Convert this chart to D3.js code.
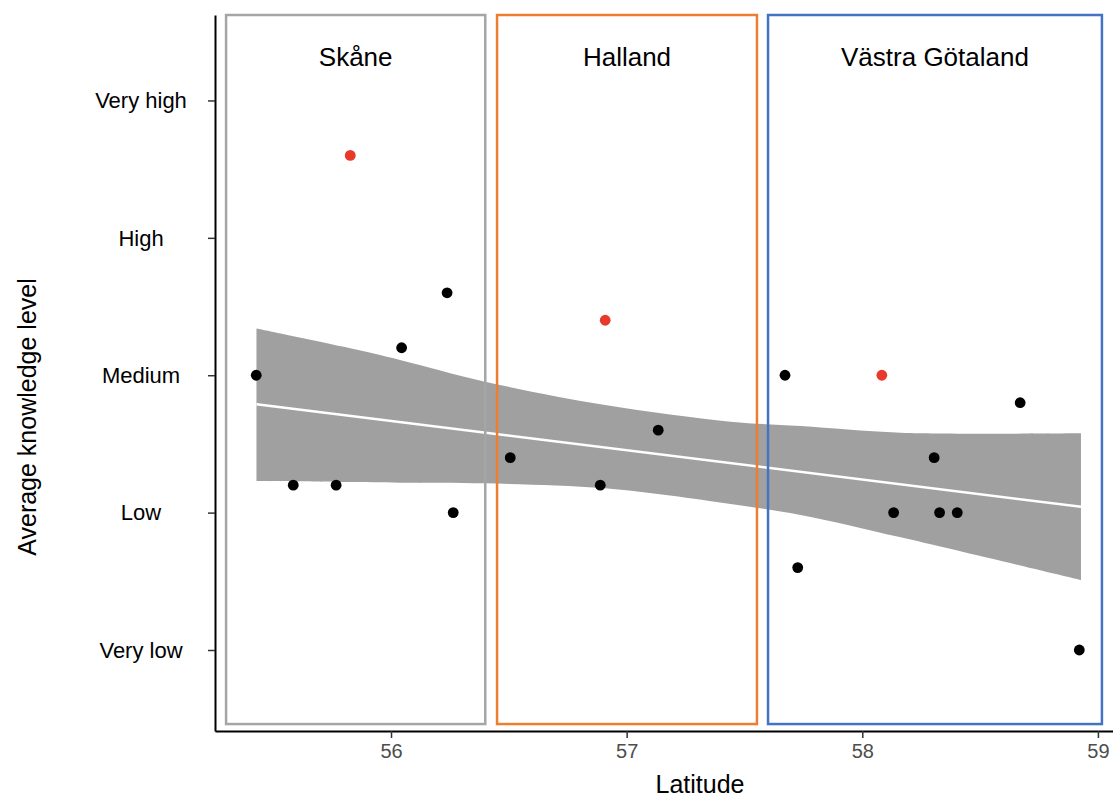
<!DOCTYPE html>
<html>
<head>
<meta charset="utf-8">
<script src="https://cdn.jsdelivr.net/npm/d3@7"></script>
<style>
  body { margin: 0; background: #fff; }
  text { font-family: "Liberation Sans", Arial, Helvetica, sans-serif; }
</style>
</head>
<body>
<div id="chart"></div>
<script>
// site averages (latitude, knowledge level 1..5)
var lat = [55.428, 55.585, 55.767, 55.827, 56.045, 56.238, 56.264,
           56.506, 56.888, 56.909, 57.134,
           57.672, 57.726, 58.083, 58.133, 58.305, 58.328, 58.403, 58.670, 58.921];
var level = [3.0, 2.2, 2.2, 4.6, 3.2, 3.6, 2.0,
             2.4, 2.2, 3.4, 2.6,
             3.0, 1.6, 3.0, 2.0, 2.4, 2.0, 2.0, 2.8, 1.0];
var highlighted = [false, false, false, true, false, false, false,
                   false, false, true, false,
                   false, false, true, false, false, false, false, false, false];

// fitted trend and confidence band
var fitLat = [55.429, 55.805, 56.038, 56.399, 56.909, 57.441, 57.738, 58.163, 58.928];
var fitUpper = [3.341, 3.205, 3.111, 2.953, 2.783, 2.662, 2.630, 2.582, 2.577];
var fitLower = [2.230, 2.223, 2.218, 2.213, 2.177, 2.063, 1.983, 1.820, 1.509];
var lineLat = [55.429, 58.928];
var lineVal = [2.788, 2.043];

// regions
var regionNames = ["Skåne", "Halland", "Västra Götaland"];
var regionFrom = [55.30, 56.45, 57.60];
var regionTo = [56.40, 57.553, 59.017];
var regionColors = ["#a5a5a5", "#ed7d31", "#4472c4"];

var levelTicks = [1, 2, 3, 4, 5];
var levelLabels = ["Very low", "Low", "Medium", "High", "Very high"];
var latTicks = [56, 57, 58, 59];

var width = 1113, height = 799;

var x = d3.scaleLinear().domain([55.253, 59.064]).range([215, 1113]);
var y = d3.scaleLinear().domain([0.4104, 5.622]).range([731, 15]);

var svg = d3.select("#chart").append("svg")
    .attr("width", width)
    .attr("height", height);

// confidence band
var band = fitLat.map(function(d, i) { return {lat: d, lo: fitLower[i], hi: fitUpper[i]}; });
svg.append("path")
    .datum(band)
    .attr("fill", "#a0a0a0")
    .attr("d", d3.area()
        .x(function(d) { return x(d.lat); })
        .y0(function(d) { return y(d.lo); })
        .y1(function(d) { return y(d.hi); })
        .curve(d3.curveCatmullRom));

svg.append("line")
    .attr("x1", x(lineLat[0])).attr("y1", y(lineVal[0]))
    .attr("x2", x(lineLat[1])).attr("y2", y(lineVal[1]))
    .attr("stroke", "#fff")
    .attr("stroke-width", 2.5);

// region boxes
var boxTop = 5.622, boxBottom = 0.461;
var regions = svg.selectAll(".region")
    .data(regionNames)
    .enter().append("g")
    .attr("class", "region");

regions.append("rect")
    .attr("x", function(d, i) { return x(regionFrom[i]); })
    .attr("y", y(boxTop))
    .attr("width", function(d, i) { return x(regionTo[i]) - x(regionFrom[i]); })
    .attr("height", y(boxBottom) - y(boxTop))
    .attr("fill", "none")
    .attr("stroke", function(d, i) { return regionColors[i]; })
    .attr("stroke-width", 2.5);

regions.append("text")
    .attr("x", function(d, i) { return (x(regionFrom[i]) + x(regionTo[i])) / 2; })
    .attr("y", 66)
    .attr("text-anchor", "middle")
    .attr("font-size", "26px")
    .attr("fill", "#000")
    .text(function(d) { return d; });

// points
svg.selectAll(".pt")
    .data(lat)
    .enter().append("circle")
    .attr("class", "pt")
    .attr("cx", function(d) { return x(d); })
    .attr("cy", function(d, i) { return y(level[i]); })
    .attr("r", 5.4)
    .attr("fill", function(d, i) { return highlighted[i] ? "#e8392b" : "#000"; });

// axes
var xAxis = svg.append("g")
    .attr("transform", "translate(0,731)")
    .call(d3.axisBottom(x).tickValues(latTicks).tickSizeInner(7).tickSizeOuter(0)
        .tickPadding(6).tickFormat(d3.format("d")));
xAxis.select(".domain").attr("stroke", "#000").attr("stroke-width", 2);
xAxis.selectAll(".tick line").attr("stroke", "#333").attr("stroke-width", 1.5);
xAxis.selectAll(".tick text")
    .attr("font-size", "20px")
    .attr("fill", "#4d4d4d")
    .style("font-family", "'Liberation Sans', Arial, sans-serif");

var yAxis = svg.append("g")
    .attr("transform", "translate(215,0)")
    .call(d3.axisLeft(y).tickValues(levelTicks).tickSizeInner(7).tickSizeOuter(0)
        .tickFormat(function(d) { return ""; }));
yAxis.select(".domain").attr("stroke", "#000").attr("stroke-width", 2);
yAxis.selectAll(".tick line").attr("stroke", "#333").attr("stroke-width", 1.5);

svg.selectAll(".ylab")
    .data(levelTicks)
    .enter().append("text")
    .attr("class", "ylab")
    .attr("x", 141)
    .attr("y", function(d) { return y(d); })
    .attr("dy", "0.35em")
    .attr("text-anchor", "middle")
    .attr("font-size", "22px")
    .attr("fill", "#000")
    .text(function(d, i) { return levelLabels[i]; });

svg.append("text")
    .attr("x", 700)
    .attr("y", 793)
    .attr("text-anchor", "middle")
    .attr("font-size", "25px")
    .attr("fill", "#000")
    .text("Latitude");

svg.append("text")
    .attr("transform", "translate(36,417) rotate(-90)")
    .attr("text-anchor", "middle")
    .attr("font-size", "25px")
    .attr("fill", "#000")
    .text("Average knowledge level");
</script>
</body>
</html>
